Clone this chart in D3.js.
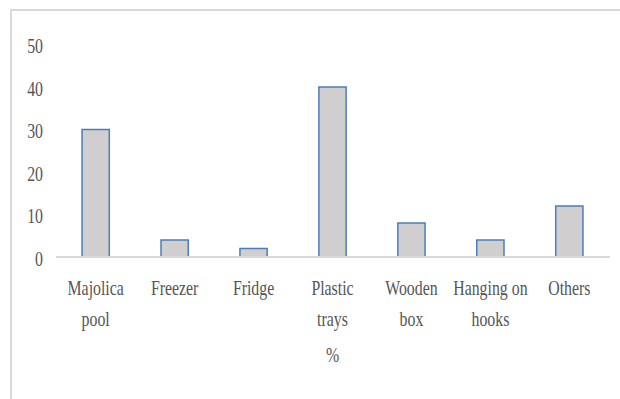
<!DOCTYPE html>
<html>
<head>
<meta charset="utf-8">
<script src="https://cdn.jsdelivr.net/npm/d3@7"></script>
<style>
  html, body { margin: 0; padding: 0; background: #fff; }
  svg { display: block; }
</style>
</head>
<body>
<div id="chart"></div>
<script>
// Storage methods and their share (%)
const categories = ["Majolica pool", "Freezer", "Fridge", "Plastic trays", "Wooden box", "Hanging on hooks", "Others"];
const labelLines = [["Majolica", "pool"], ["Freezer"], ["Fridge"], ["Plastic", "trays"], ["Wooden", "box"], ["Hanging on", "hooks"], ["Others"]];
const values = [30, 4, 2, 40, 8, 4, 12];
const yTicks = [0, 10, 20, 30, 40, 50];
const axisTitle = "%";

const W = 620, H = 399;
const margin = { left: 56, right: 11, top: 44.5, bottom: 142 };
const squeeze = 0.72; // narrow, tall lettering
const FONT = "'Liberation Serif', 'Times New Roman', Times, serif";
const INK = "#555555";

const svg = d3.select("#chart").append("svg").attr("width", W).attr("height", H);

function label(sel) {
  return sel.append("text")
    .style("font-family", FONT)
    .style("font-size", "22px")
    .style("fill", INK);
}

// outer frame (top and left edges visible)
svg.append("line").attr("x1", 10).attr("x2", W).attr("y1", 10).attr("y2", 10)
  .attr("stroke", "#d9d9d9").attr("stroke-width", 2);
svg.append("line").attr("x1", 11).attr("x2", 11).attr("y1", 10).attr("y2", H)
  .attr("stroke", "#d9d9d9").attr("stroke-width", 2);

const x = d3.scaleBand().domain(categories)
  .range([margin.left, W - margin.right]).paddingInner(0.655).paddingOuter(0.33);
const y = d3.scaleLinear().domain([0, 50]).range([H - margin.bottom, margin.top]);

// y tick labels
const yAxis = d3.axisLeft(y).tickValues(yTicks).tickSize(0).tickPadding(0);
const gy = svg.append("g").call(yAxis);
gy.select(".domain").remove();
gy.selectAll(".tick text").remove();
gy.selectAll(".tick").each(function (d) {
  const g = d3.select(this).append("g")
    .attr("transform", "translate(43,8) scale(" + squeeze + ",1)");
  label(g).attr("text-anchor", "end").text(d);
});

// bars
svg.append("g").selectAll("rect").data(values).join("rect")
  .attr("x", (d, i) => x(categories[i]))
  .attr("y", d => y(d))
  .attr("width", x.bandwidth())
  .attr("height", d => y(0) - y(d))
  .attr("fill", "#d0cece")
  .attr("stroke", "#4a7ebb")
  .attr("stroke-width", 1.5);

// baseline
const xAxis = d3.axisBottom(x).tickSize(0).tickFormat("");
const gx = svg.append("g").attr("transform", "translate(0," + y(0) + ")").call(xAxis);
gx.select(".domain").attr("stroke", "#d9d9d9").attr("stroke-width", 2)
  .attr("d", "M" + margin.left + ",0H" + (W - margin.right + 1));
gx.selectAll(".tick text").remove();

// category labels
gx.selectAll(".tick").each(function (d) {
  const lines = labelLines[categories.indexOf(d)];
  const g = d3.select(this).append("g")
    .attr("transform", "translate(0,38) scale(" + squeeze + ",1)");
  const t = label(g).attr("text-anchor", "middle");
  lines.forEach((ln, k) => {
    t.append("tspan").attr("x", 0).attr("y", k * 31).text(ln);
  });
});

// axis title
const gt = svg.append("g")
  .attr("transform", "translate(" + ((margin.left + W - margin.right) / 2) + ",362) scale(" + squeeze + ",1)");
label(gt).attr("text-anchor", "middle").text(axisTitle);
</script>
</body>
</html>
